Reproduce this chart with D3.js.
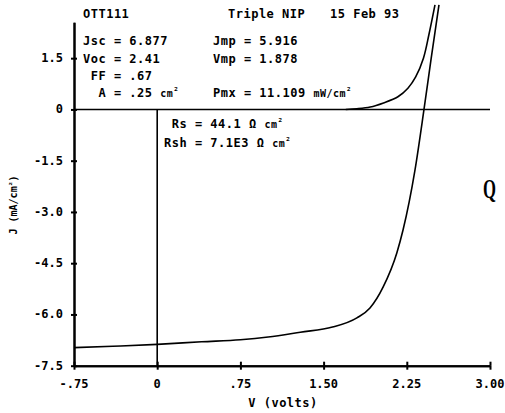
<!DOCTYPE html>
<html><head><meta charset="utf-8">
<script src="https://cdn.jsdelivr.net/npm/d3@7"></script>
<style>
body{margin:0;background:#fff;}
svg text{font-family:"DejaVu Sans Mono",monospace;font-weight:bold;fill:#000;white-space:pre;}
</style></head>
<body><svg id="c" width="505" height="413"></svg>
<script>
// Light J-V curve (V in volts, J in mA/cm^2)
const lightV = [-0.75,-0.4,0,0.4,0.75,1.0,1.29,1.58,1.80,1.918,2.036,2.16,2.216,2.324,2.405,2.47,2.54];
const lightJ = [-6.97,-6.93,-6.877,-6.80,-6.74,-6.66,-6.52,-6.37,-6.10,-5.81,-5.2,-4.2,-3.53,-1.77,0,1.5,3.06];
// Dark J-V curve
const darkV = [1.70,1.80,1.92,2.04,2.17,2.26,2.33,2.40,2.45,2.504];
const darkJ = [0.0,0.02,0.07,0.19,0.37,0.62,0.95,1.5,2.2,3.06];
// Axis ticks
const xTicks = [-0.75,0,0.75,1.5,2.25,3.0];
const xTickLabels = ["-.75","0",".75","1.50","2.25","3.00"];
const yTicks = [1.5,0,-1.5,-3.0,-4.5,-6.0,-7.5];
const yTickLabels = ["1.5","0","-1.5","-3.0","-4.5","-6.0","-7.5"];

const svg = d3.select("#c");
const x = d3.scaleLinear().domain([-0.75,3.0]).range([74,490]);
const y = d3.scaleLinear().domain([-7.5,2.55]).range([365.7,22.3]);

const axStyle = g => { g.selectAll("path,line").attr("stroke","#000").attr("stroke-width",2); g.selectAll("text").remove(); };

// y axis with cross ticks
svg.append("g").attr("transform",`translate(${x(-0.75)},0)`)
  .call(d3.axisLeft(y).tickValues(yTicks).tickSizeInner(3).tickSizeOuter(0)).call(axStyle);
svg.append("g").attr("transform",`translate(${x(-0.75)},0)`)
  .call(d3.axisRight(y).tickValues(yTicks).tickSizeInner(3).tickSizeOuter(0)).call(axStyle);
// x axis with cross ticks
svg.append("g").attr("transform",`translate(0,${y(-7.5)})`)
  .call(d3.axisBottom(x).tickValues(xTicks).tickSizeInner(4).tickSizeOuter(0)).call(axStyle);
svg.append("g").attr("transform",`translate(0,${y(-7.5)})`)
  .call(d3.axisTop(x).tickValues(xTicks).tickSizeInner(4).tickSizeOuter(0)).call(axStyle);

// tick labels
svg.selectAll(".yl").data(yTicks).enter().append("text")
  .attr("x",63).attr("y",d=>y(d)+4).attr("text-anchor","end")
  .attr("font-size",12).text((d,i)=>yTickLabels[i]);
svg.selectAll(".xl").data(xTicks).enter().append("text")
  .attr("x",d=>x(d)).attr("y",388).attr("text-anchor","middle")
  .attr("font-size",12).text((d,i)=>xTickLabels[i]);

// zero lines
svg.append("line").attr("x1",x(-0.75)).attr("x2",x(3.0)).attr("y1",y(0)).attr("y2",y(0))
  .attr("stroke","#000").attr("stroke-width",1.6);
svg.append("line").attr("x1",x(0)).attr("x2",x(0)).attr("y1",y(0)).attr("y2",y(-7.5))
  .attr("stroke","#000").attr("stroke-width",1.6);

// curves
const line = d3.line().x(d=>x(d[0])).y(d=>y(d[1])).curve(d3.curveMonotoneX);
const lineSmooth = d3.line().x(d=>x(d[0])).y(d=>y(d[1])).curve(d3.curveCatmullRom.alpha(0.5));
svg.append("path").datum(lightV.map((v,i)=>[v,lightJ[i]])).attr("d",line)
  .attr("fill","none").attr("stroke","#000").attr("stroke-width",1.6);
svg.append("path").datum(darkV.map((v,i)=>[v,darkJ[i]])).attr("d",lineSmooth)
  .attr("fill","none").attr("stroke","#000").attr("stroke-width",1.6);

// annotation texts
function t(xp,yp,parts,size){
  const el = svg.append("text").attr("x",xp).attr("y",yp).attr("font-size",size||12).attr("letter-spacing",0.5);
  parts.forEach(p=>{ if(typeof p==="string") el.append("tspan").text(p);
    else el.append("tspan").attr("font-size",p.s).attr("dy",p.dy||0).text(p.t); });
  return el;
}
t(83,18,["OTT111"]);
t(228,18,["Triple NIP"]);
t(330,18,["15 Feb 93"]);
t(83,45,["Jsc = 6.877"]);
t(83,63,["Voc = 2.41"]);
t(83,80,[" FF = .67"]);
t(83,97,["  A = .25 ",{t:"cm",s:10},{t:"²",s:9,dy:-3}]);
t(213,45,["Jmp = 5.916"]);
t(213,63,["Vmp = 1.878"]);
t(213,97,["Pmx = 11.109 ",{t:"mW/cm",s:10},{t:"²",s:9,dy:-3}]);
t(164,128,[" Rs = 44.1 Ω ",{t:"cm",s:10},{t:"²",s:9,dy:-3}]);
t(164,147,["Rsh = 7.1E3 Ω ",{t:"cm",s:10},{t:"²",s:9,dy:-3}]);

// axis titles
svg.append("text").attr("x",283).attr("y",407).attr("text-anchor","middle").attr("font-size",12)
  .attr("letter-spacing",0.5).text("V (volts)");
const yl = svg.append("text").attr("transform","translate(17,205) rotate(-90)")
  .attr("text-anchor","middle").attr("font-size",10);
yl.append("tspan").text("J (mA/cm");
yl.append("tspan").attr("font-size",8).attr("dy",-2).text("²");
yl.append("tspan").attr("dy",2).text(")");

// Q marker
svg.append("text").attr("x",483).attr("y",198).attr("font-size",27)
  .attr("textLength",13).attr("lengthAdjust","spacingAndGlyphs")
  .style("font-family","'Liberation Serif',serif").text("Q");
</script></body></html>
